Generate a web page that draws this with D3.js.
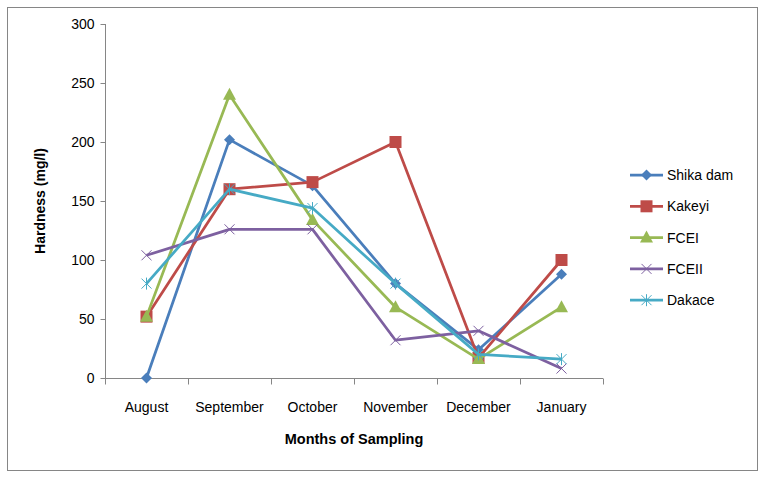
<!DOCTYPE html>
<html>
<head>
<meta charset="utf-8">
<script src="https://cdn.jsdelivr.net/npm/d3@7"></script>
<style>
  body { margin: 0; background: #fff; }
  svg { font-family: "Liberation Sans", Arial, sans-serif; }
  .axis path, .axis line { stroke: #868686; }
  .axis text { font-size: 14px; fill: #000; }
</style>
</head>
<body>
<svg id="chart" width="765" height="479"></svg>
<script>
var months = ["August", "September", "October", "November", "December", "January"];
var yTicks = [0, 50, 100, 150, 200, 250, 300];

var shikaDam = [0, 202, 163, 80, 24, 88];
var kakeyi = [52, 160, 166, 200, 17, 100];
var fcei = [52, 240, 134, 60, 16, 60];
var fceii = [104, 126, 126, 32, 40, 8];
var dakace = [80, 160, 144, 80, 20, 16];

var seriesNames = ["Shika dam", "Kakeyi", "FCEI", "FCEII", "Dakace"];
var seriesColors = ["#4a7ebb", "#be4b48", "#98b954", "#7d60a0", "#46aac5"];
var seriesMarkers = ["diamond", "square", "triangle", "x", "star"];

var series = [shikaDam, kakeyi, fcei, fceii, dakace].map(function (vals, i) {
    return { name: seriesNames[i], color: seriesColors[i], marker: seriesMarkers[i], values: vals };
});

var svg = d3.select("#chart");

// outer border
svg.append("rect")
    .attr("x", 7.5).attr("y", 7.5)
    .attr("width", 750).attr("height", 463)
    .attr("fill", "none").attr("stroke", "#868686").attr("stroke-width", 1);

var plotLeft = 105, plotRight = 603, plotTop = 24, plotBottom = 378;

var x = d3.scaleBand().domain(months).range([plotLeft, plotRight]);
var y = d3.scaleLinear().domain([0, 300]).range([plotBottom, plotTop]);

// y axis
var yAxis = svg.append("g")
    .attr("class", "axis")
    .attr("transform", "translate(" + (plotLeft + 0.5) + ",0)")
    .call(d3.axisLeft(y).tickValues(yTicks).tickSize(5).tickSizeOuter(0).tickPadding(6));
yAxis.select(".domain").attr("d", "M0," + plotTop + "V" + (plotBottom + 5));
yAxis.selectAll("text").style("font-size", "14px");

// x axis with ticks on band edges
var xAxis = svg.append("g")
    .attr("class", "axis")
    .attr("transform", "translate(0," + (plotBottom + 0.5) + ")");
xAxis.append("line")
    .attr("x1", plotLeft).attr("x2", plotRight)
    .attr("stroke", "#868686");
var edges = months.map(function (m) { return x(m); }).concat([plotRight]);
xAxis.selectAll("line.tick")
    .data(edges)
    .enter()
    .append("line")
    .attr("class", "tick")
    .attr("x1", function (d) { return Math.round(d) + 0.5; })
    .attr("x2", function (d) { return Math.round(d) + 0.5; })
    .attr("y1", 0).attr("y2", 6)
    .attr("stroke", "#868686");
xAxis.selectAll("text")
    .data(months)
    .enter()
    .append("text")
    .attr("x", function (d) { return x(d) + x.bandwidth() / 2; })
    .attr("y", 33)
    .attr("text-anchor", "middle")
    .style("font-size", "14px")
    .text(function (d) { return d; });

// axis titles
svg.append("text")
    .attr("transform", "translate(45," + ((plotTop + plotBottom) / 2) + ") rotate(-90)")
    .attr("text-anchor", "middle")
    .style("font-size", "14px").style("font-weight", "bold")
    .text("Hardness (mg/l)");
svg.append("text")
    .attr("x", (plotLeft + plotRight) / 2)
    .attr("y", 444)
    .attr("text-anchor", "middle")
    .style("font-size", "14.5px").style("font-weight", "bold")
    .text("Months of Sampling");

function drawMarker(g, type, color) {
    switch (type) {
        case "diamond":
            g.append("path").attr("d", "M0,-5.5L5.5,0L0,5.5L-5.5,0Z").attr("fill", color);
            break;
        case "square":
            g.append("rect").attr("x", -6).attr("y", -6).attr("width", 12).attr("height", 12).attr("fill", color);
            break;
        case "triangle":
            g.append("path").attr("d", "M0,-7L6.5,5L-6.5,5Z").attr("fill", color);
            break;
        case "x":
            g.append("path").attr("d", "M-5,-5L5,5M-5,5L5,-5").attr("stroke", color).attr("stroke-width", 1);
            break;
        case "star":
            g.append("path").attr("d", "M-5,-5L5,5M-5,5L5,-5M0,-6V6").attr("stroke", color).attr("stroke-width", 1);
            break;
    }
}

var line = d3.line()
    .x(function (d, i) { return x(months[i]) + x.bandwidth() / 2; })
    .y(function (d) { return y(d); });

series.forEach(function (s) {
    var g = svg.append("g");
    g.append("path")
        .datum(s.values)
        .attr("d", line)
        .attr("fill", "none")
        .attr("stroke", s.color)
        .attr("stroke-width", 2.75)
        .attr("stroke-linejoin", "round");
    s.values.forEach(function (v, i) {
        var m = g.append("g")
            .attr("transform", "translate(" + (x(months[i]) + x.bandwidth() / 2) + "," + y(v) + ")");
        drawMarker(m, s.marker, s.color);
    });
});

// legend
var legend = svg.append("g").attr("transform", "translate(630,175)");
series.forEach(function (s, i) {
    var row = legend.append("g").attr("transform", "translate(0," + (i * 31.3) + ")");
    row.append("line").attr("x1", 0).attr("x2", 33).attr("stroke", s.color).attr("stroke-width", 2.75);
    var m = row.append("g").attr("transform", "translate(16.5,0)");
    drawMarker(m, s.marker, s.color);
    row.append("text")
        .attr("x", 37).attr("y", 5)
        .style("font-size", "14px")
        .text(s.name);
});
</script>
</body>
</html>
